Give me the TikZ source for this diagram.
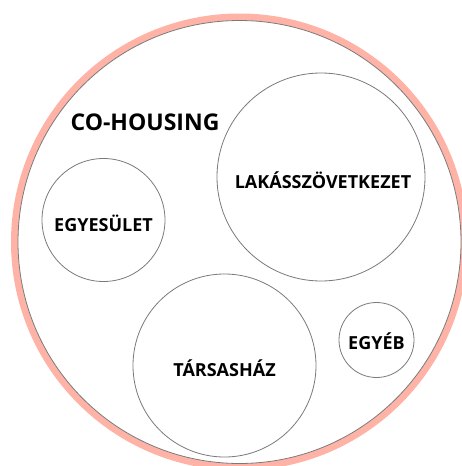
\documentclass[tikz,border=0pt]{standalone}
\usepackage{fontspec}
\setmainfont{Open Sans}
\definecolor{ringpink}{HTML}{FFB3A7}
\definecolor{linegray}{HTML}{7A7A7A}
\begin{document}
\begin{tikzpicture}[x=1pt,y=-1pt,
  inner/.style={circle,draw=linegray,line width=0.8pt,fill=white,inner sep=0pt},
  lbl/.style={font=\bfseries\fontsize{18}{21}\selectfont}]
\useasboundingbox (0,0) rectangle (462,466);
\begin{scope}
\clip (0,0) rectangle (462,466);
\draw[ringpink,line width=7pt] (239.5,242) circle[radius=225];
\draw[linegray,line width=0.8pt,fill=white] (239.5,242) circle[radius=221.5];
\end{scope}
\node[font=\bfseries\fontsize{23}{26}\selectfont] (co) at (145,122) {CO-HOUSING};
\node[inner,minimum size=123pt] (egy) at (103.5,220) {};
\node[lbl] (egyt) at (103.5,223) {EGYESÜLET};
\node[inner,minimum size=208pt] (lak) at (321,177) {};
\node[lbl] (lakt) at (323,180) {LAKÁSSZÖVETKEZET};
\node[inner,minimum size=183pt] (tar) at (224.5,365.5) {};
\node[lbl] (tart) at (224.5,368) {TÁRSASHÁZ};
\node[inner,minimum size=75pt] (egyeb) at (376.5,340) {};
\node[lbl] (egyebt) at (376.5,341) {EGYÉB};
\end{tikzpicture}
\end{document}
